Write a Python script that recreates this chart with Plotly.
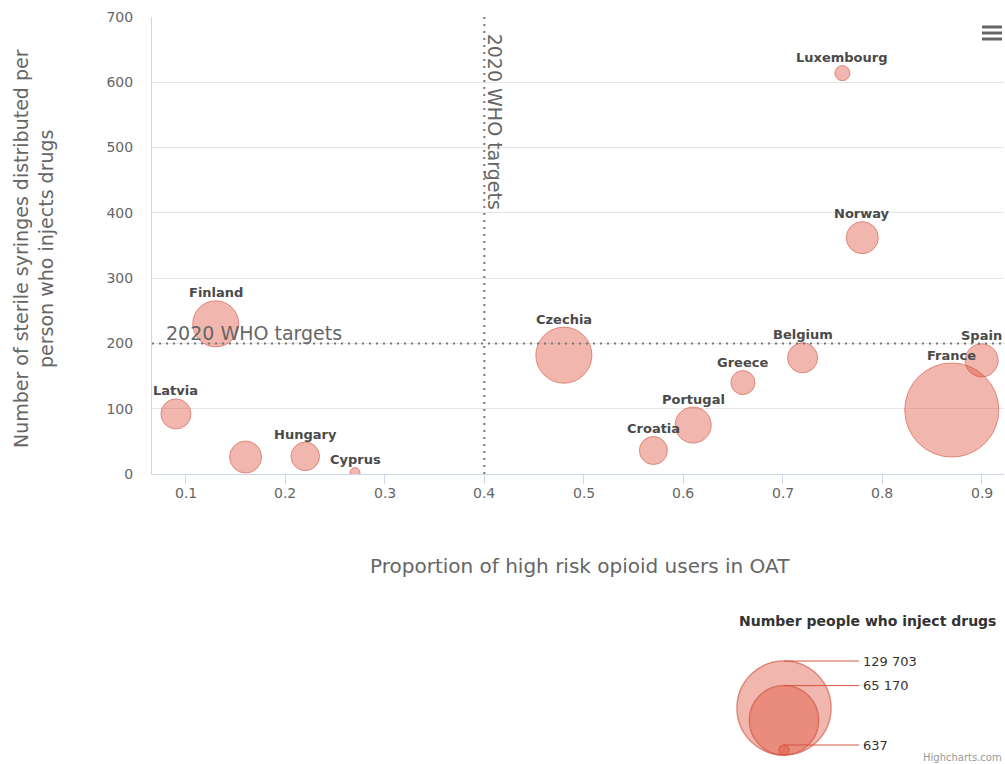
import math
import plotly.graph_objects as go

# ---------------- data ----------------
countries = ["Finland", "Latvia", None, "Hungary", "Cyprus", "Czechia", "Croatia",
             "Portugal", "Greece", "Belgium", "France", "Spain", "Luxembourg", "Norway"]
oat_share = [0.13, 0.09, 0.16, 0.22, 0.27, 0.48, 0.57, 0.61, 0.66, 0.72, 0.87, 0.90, 0.76, 0.78]
syringes_per_pwid = [230, 92, 26, 27, 2, 182, 36, 75, 140, 178, 98, 174, 614, 362]
people_inject = [24350, 7950, 9490, 6900, 637, 39340, 6560, 13000, 4220, 7950,
                 129703, 10310, 1094, 9490]

legend_values = [129703, 65170, 637]
legend_labels = ["129 703", "65 170", "637"]
x_tick_values = [0.1, 0.2, 0.3, 0.4, 0.5, 0.6, 0.7, 0.8, 0.9]
y_tick_values = [0, 100, 200, 300, 400, 500, 600, 700]
who_target_x = 0.4
who_target_y = 200
who_label = "2020 WHO targets"

# ---------------- styling ----------------
W, H = 1005, 764
PLOT_L, PLOT_R, PLOT_T, PLOT_B = 152, 1004, 17, 474   # page pixels
M_L, M_R, M_T = PLOT_L, W - PLOT_R, PLOT_T
PAPER_H = H - PLOT_T
PAPER_W = PLOT_R - PLOT_L
FONT = "DejaVu Sans"
FILL = "rgba(222,80,56,0.58)"
EDGE = "rgb(210,84,62)"
AXIS_C = "#ccd6eb"
GRID_C = "#e6e6e6"
TXT_C = "#666666"

MIN_D, MAX_D = 10, 94
zmin, zmax = min(people_inject), max(people_inject)


def bubble_diameter(v):
    pos = (v - zmin) / (zmax - zmin)
    return MIN_D + math.sqrt(max(pos, 0)) * (MAX_D - MIN_D)


def px_x(px):
    return (px - PLOT_L) / PAPER_W


def px_y(py):
    return (H - py) / PAPER_H


sizes = [bubble_diameter(v) for v in people_inject]

fig = go.Figure()
fig.add_trace(go.Scatter(
    x=oat_share, y=syringes_per_pwid, mode="markers",
    marker=dict(size=sizes, sizemode="diameter", color=FILL,
                line=dict(color=EDGE, width=1)),
    text=[c or "" for c in countries], hoverinfo="text",
    showlegend=False, xaxis="x", yaxis="y",
))

# bubble-size legend on its own pixel-unit axes
leg_sizes = [bubble_diameter(v) for v in legend_values]
LEG_CX, LEG_BASE = 784, 9
fig.add_trace(go.Scatter(
    x=[LEG_CX] * len(legend_values),
    y=[LEG_BASE + d / 2 for d in leg_sizes],
    mode="markers",
    marker=dict(size=leg_sizes, sizemode="diameter", color=FILL,
                line=dict(color=EDGE, width=1.5)),
    hoverinfo="skip", showlegend=False, xaxis="x2", yaxis="y2", cliponaxis=False,
))

shapes = []
annotations = []

# x tick labels (placed on the x scale, below the tick marks)
for v in x_tick_values:
    annotations.append(dict(text="%g" % v, xref="x", yref="paper", x=v, y=px_y(493),
                            xanchor="center", yanchor="middle", showarrow=False,
                            font=dict(family=FONT, size=14, color=TXT_C)))

# plot lines for WHO targets
shapes.append(dict(type="line", xref="x", yref="paper", x0=who_target_x, x1=who_target_x,
                   y0=px_y(PLOT_B), y1=1,
                   line=dict(color="#777777", width=2, dash="2px,5px")))
shapes.append(dict(type="line", xref="paper", yref="y", x0=0, x1=1,
                   y0=who_target_y, y1=who_target_y,
                   line=dict(color="#777777", width=2, dash="2px,5px")))
annotations.append(dict(text=who_label, xref="paper", yref="y", x=0, y=who_target_y,
                        xanchor="left", yanchor="bottom", xshift=12, yshift=-3,
                        showarrow=False, font=dict(family=FONT, size=19, color=TXT_C)))
annotations.append(dict(text=who_label, xref="x", yref="paper", x=who_target_x, y=1,
                        xanchor="left", yanchor="top", xshift=-2, yshift=-15, textangle=90,
                        showarrow=False, font=dict(family=FONT, size=19, color=TXT_C)))

# data labels above bubbles
for name, xv, yv, d in zip(countries, oat_share, syringes_per_pwid, sizes):
    if not name:
        continue
    annotations.append(dict(text="<b>%s</b>" % name, x=xv, y=yv, xref="x", yref="y",
                            yshift=d / 2 + 8, yanchor="middle", xanchor="center",
                            showarrow=False,
                            font=dict(family=FONT, size=13, color="#4a4a4a")))

# legend connectors and labels
for d, lab in zip(leg_sizes, legend_labels):
    ytop = LEG_BASE + d
    shapes.append(dict(type="line", xref="x2", yref="y2", x0=LEG_CX, x1=859,
                       y0=ytop, y1=ytop, line=dict(color=EDGE, width=1)))
    annotations.append(dict(text=lab, xref="x2", yref="y2", x=861, y=ytop,
                            xanchor="left", yanchor="middle", showarrow=False,
                            font=dict(family=FONT, size=13, color="#333333")))
annotations.append(dict(text="<b>Number people who inject drugs</b>", xref="paper",
                        yref="paper", x=px_x(867), y=px_y(621), xanchor="center",
                        yanchor="middle", showarrow=False,
                        font=dict(family=FONT, size=14, color="#333333")))

# axis titles
annotations.append(dict(text="Proportion of high risk opioid users in OAT", xref="paper",
                        yref="paper", x=px_x(580), y=px_y(566), xanchor="center",
                        yanchor="middle", showarrow=False,
                        font=dict(family=FONT, size=20, color=TXT_C)))
annotations.append(dict(text="Number of sterile syringes distributed per<br>person who injects drugs",
                        xref="paper", yref="paper", x=px_x(34), y=px_y(249),
                        xanchor="center", yanchor="middle", textangle=-90, showarrow=False,
                        font=dict(family=FONT, size=19, color=TXT_C)))

# credits
annotations.append(dict(text="Highcharts.com", xref="paper", yref="paper", x=1, y=px_y(757),
                        xanchor="right", yanchor="middle", showarrow=False,
                        font=dict(family=FONT, size=10, color="#999999")))

# context-menu icon
for py in (27, 33, 39):
    shapes.append(dict(type="line", xref="paper", yref="paper", x0=px_x(982), x1=px_x(1002),
                       y0=px_y(py), y1=px_y(py), line=dict(color="#666666", width=3)))

fig.update_layout(
    width=W, height=H, autosize=False,
    margin=dict(l=M_L, r=M_R, t=M_T, b=0, pad=0, autoexpand=False),
    paper_bgcolor="white", plot_bgcolor="white",
    font=dict(family=FONT, color=TXT_C),
    showlegend=False,
    shapes=shapes, annotations=annotations,
    xaxis=dict(domain=[0, 1], anchor="y", range=[0.0659, 0.9225], automargin=False,
               tickvals=x_tick_values, ticks="outside", ticklen=9, tickcolor=AXIS_C,
               showticklabels=False,
               showline=True, linecolor=AXIS_C, linewidth=1, showgrid=False, zeroline=False,
               fixedrange=True),
    yaxis=dict(domain=[px_y(PLOT_B), 1], anchor="x", range=[0, 700], automargin=False,
               tickvals=y_tick_values, showline=True, linecolor=AXIS_C, linewidth=1,
               showgrid=True, gridcolor=GRID_C, gridwidth=1, zeroline=False, ticks="",
               ticklabelstandoff=15,
               tickfont=dict(family=FONT, size=14, color=TXT_C), fixedrange=True),
    xaxis2=dict(domain=[px_x(720), 1], anchor="y2", range=[720, 1004], visible=False,
                automargin=False, fixedrange=True),
    yaxis2=dict(domain=[0, px_y(640)], anchor="x2", range=[0, 124], visible=False,
                automargin=False, fixedrange=True),
)

fig.write_html("out.html",
               config={"displayModeBar": False, "responsive": False},
               post_script="document.body.style.margin='0px';"
                           "document.body.style.overflow='hidden';")
